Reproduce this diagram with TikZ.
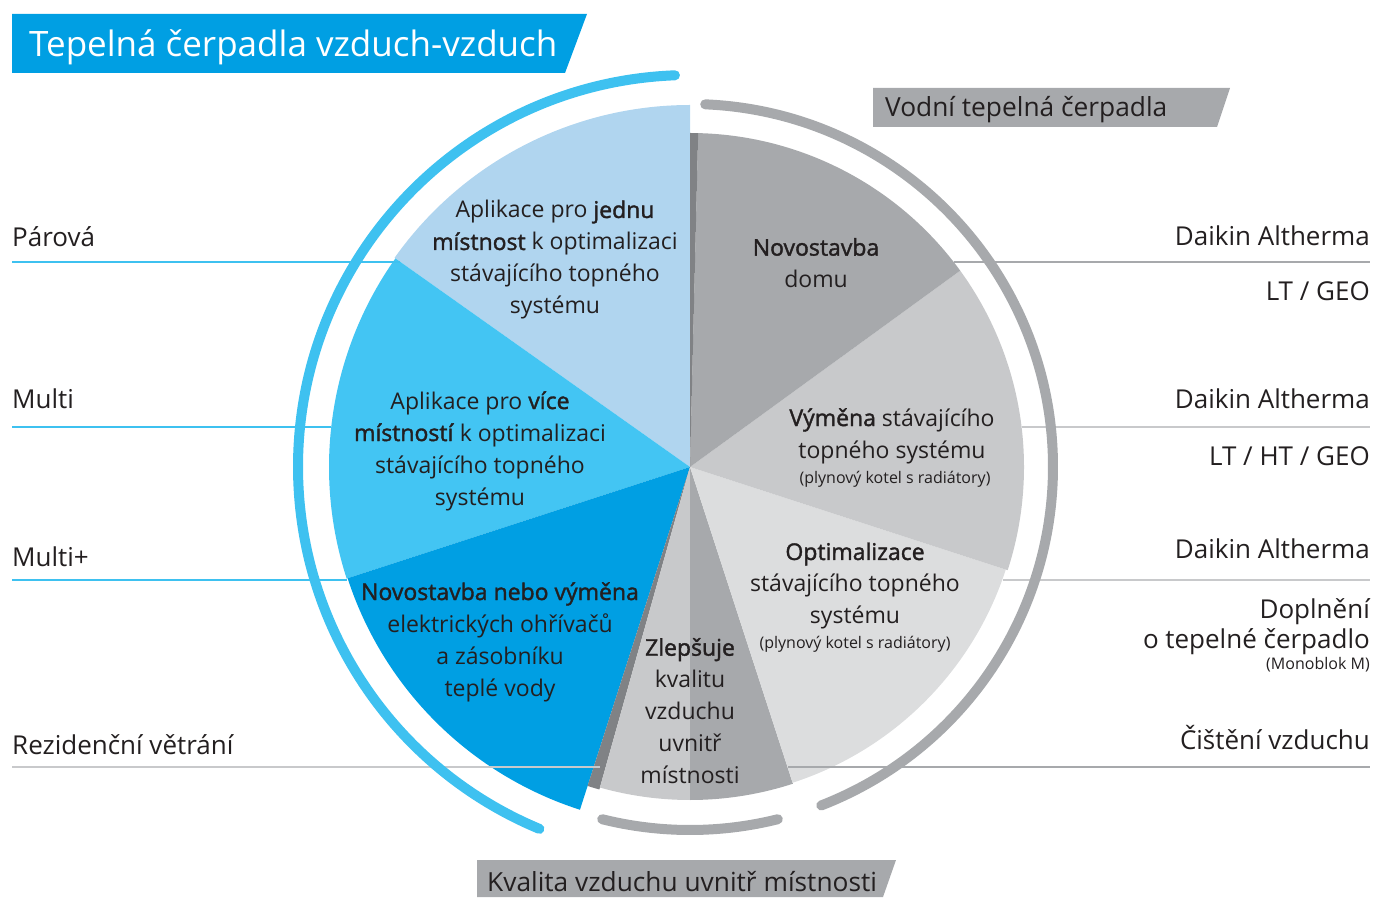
\documentclass[tikz,border=0pt]{standalone}
\usepackage{fontspec}
\setmainfont{Open Sans}[BoldFont={Open Sans}, BoldFeatures={FakeBold=1.6}]
\usetikzlibrary{positioning}
\definecolor{paleblue}{HTML}{B0D5EF}
\definecolor{midblue}{HTML}{43C5F3}
\definecolor{deepblue}{HTML}{009FE3}
\definecolor{arcblue}{HTML}{3EC1F0}
\definecolor{gr}{HTML}{A7A9AC}
\definecolor{ltgr}{HTML}{C8C9CB}
\definecolor{xltgr}{HTML}{DCDDDE}
\definecolor{dkgr}{HTML}{808285}
\definecolor{ink}{HTML}{231F20}

\begin{document}
\begin{tikzpicture}[x=1pt,y=1pt,
sl/.style={fill=#1},
ring/.style={draw=#1, line width=10pt, line cap=round},
rule/.style={draw=#1, line width=1.2pt},
txt/.style={text=ink, align=center, inner sep=0pt, font=\fontsize{23}{32}\selectfont},
tiny/.style={text=ink, align=center, inner sep=0pt, font=\fontsize{16}{19}\selectfont},
lbl/.style={text=ink, inner sep=0pt, font=\fontsize{26}{31}\selectfont},
smlbl/.style={text=ink, inner sep=0pt, font=\fontsize{16}{19}\selectfont},
]
\useasboundingbox (0,0) rectangle (1375,897);
\coordinate (c) at (690,430);

\fill[sl=paleblue] (c) -- +(90:362) arc[start angle=90, end angle=144.7, radius=362] -- cycle;
\fill[sl=midblue] (c) -- +(144.7:361) arc[start angle=144.7, end angle=198, radius=361] -- cycle;
\fill[sl=deepblue] (c) -- +(198:360) arc[start angle=198, end angle=252.2, radius=360] -- cycle;
\fill[sl=dkgr] (c) -- +(252.2:335) arc[start angle=252.2, end angle=254.3, radius=335] -- cycle;
\fill[sl=ltgr] (c) -- +(254.3:333) arc[start angle=254.3, end angle=270, radius=333] -- cycle;
\fill[sl=gr] (c) -- +(270:333) arc[start angle=270, end angle=288, radius=333] -- cycle;
\fill[sl=xltgr] (c) -- +(288:332) arc[start angle=288, end angle=342, radius=332] -- cycle;
\fill[sl=ltgr] (c) -- +(342:334) arc[start angle=342, end angle=396, radius=334] -- cycle;
\fill[sl=gr] (c) -- +(36:334) arc[start angle=36, end angle=88.6, radius=334] -- cycle;
\fill[sl=dkgr] (c) -- +(88.6:334) arc[start angle=88.6, end angle=90, radius=334] -- cycle;

\draw[rule=arcblue] (12,635) -- (400,635);
\draw[rule=arcblue] (12,470) -- (331,470);
\draw[rule=arcblue] (12,317) -- (347,317);
\draw[rule=ltgr] (12,130) -- (600,130);
\draw[rule=gr] (954,635) -- (1370,635);
\draw[rule=ltgr] (1022,470) -- (1370,470);
\draw[rule=ltgr] (1003,317) -- (1370,317);
\draw[rule=gr] (788,130) -- (1370,130);

\draw[ring=arcblue] (c) ++(92.2:392) arc[start angle=92.2, end angle=247.4, radius=392];
\draw[ring=gr] (c) ++(87.6:363) arc[start angle=87.6, end angle=-68.8, radius=363];
\draw[ring=gr] (c) ++(256:363) arc[start angle=256, end angle=284, radius=363];

\fill[deepblue] (12,883) -- (587,883) -- (565,824) -- (12,824) -- cycle;
\node[anchor=base west, inner sep=0pt, text=white, font=\fontsize{35}{42}\selectfont] (title) at (29,840) {Tepelná čerpadla vzduch-vzduch};
\fill[gr] (873,809) -- (1230,809) -- (1217,770) -- (873,770) -- cycle;
\node[lbl, anchor=base west, font=\fontsize{26.3}{31}\selectfont] (water) at (885,780) {Vodní tepelná čerpadla};
\fill[gr] (477,37) -- (896,37) -- (883,0) -- (477,0) -- cycle;
\node[lbl, anchor=base west, font=\fontsize{26.3}{31}\selectfont] (iaq) at (487,6) {Kvalita vzduchu uvnitř místnosti};

\node[txt] (single) at (555,637) {Aplikace pro \textbf{jednu}\\\textbf{místnost} k optimalizaci\\stávajícího topného\\systému};
\node[txt] (multi) at (480,446) {Aplikace pro \textbf{více}\\\textbf{místností} k optimalizaci\\stávajícího topného\\systému};
\node[txt] (dhw) at (500,255) {\textbf{Novostavba nebo výměna}\\elektrických ohřívačů\\a zásobníku\\teplé vody};
\node[txt] (air) at (690,186) {\textbf{Zlepšuje}\\kvalitu\\vzduchu\\uvnitř\\místnosti};
\node[txt] (opt) at (855,311) {\textbf{Optimalizace}\\stávajícího topného\\systému};
\node[tiny] (optnote) at (855,253) {(plynový kotel s radiátory)};
\node[txt] (swap) at (892,461) {\textbf{Výměna} stávajícího\\topného systému};
\node[tiny] (swapnote) at (895,418) {(plynový kotel s radiátory)};
\node[txt] (newbuild) at (816,634) {\textbf{Novostavba}\\domu};

\node[lbl, anchor=base west] (pair) at (12,650) {Párová};
\node[lbl, anchor=base west] (mlt) at (12,488) {Multi};
\node[lbl, anchor=base west] (mltp) at (12,330) {Multi+};
\node[lbl, anchor=base west] (vent) at (12,143) {Rezidenční větrání};

\node[lbl, anchor=base east] (dal1) at (1370,651) {Daikin Altherma};
\node[lbl, anchor=base east] (geo1) at (1370,596) {LT / GEO};
\node[lbl, anchor=base east] (dal2) at (1370,488) {Daikin Altherma};
\node[lbl, anchor=base east] (geo2) at (1370,431) {LT / HT / GEO};
\node[lbl, anchor=base east] (dal3) at (1370,338) {Daikin Altherma};
\node[lbl, anchor=base east] (hyb1) at (1370,278) {Doplnění};
\node[lbl, anchor=base east] (hyb2) at (1370,248) {o tepelné čerpadlo};
\node[smlbl, anchor=base east] (mono) at (1370,227) {(Monoblok M)};
\node[lbl, anchor=base east] (purif) at (1370,148) {Čištění vzduchu};
\end{tikzpicture}
\end{document}
